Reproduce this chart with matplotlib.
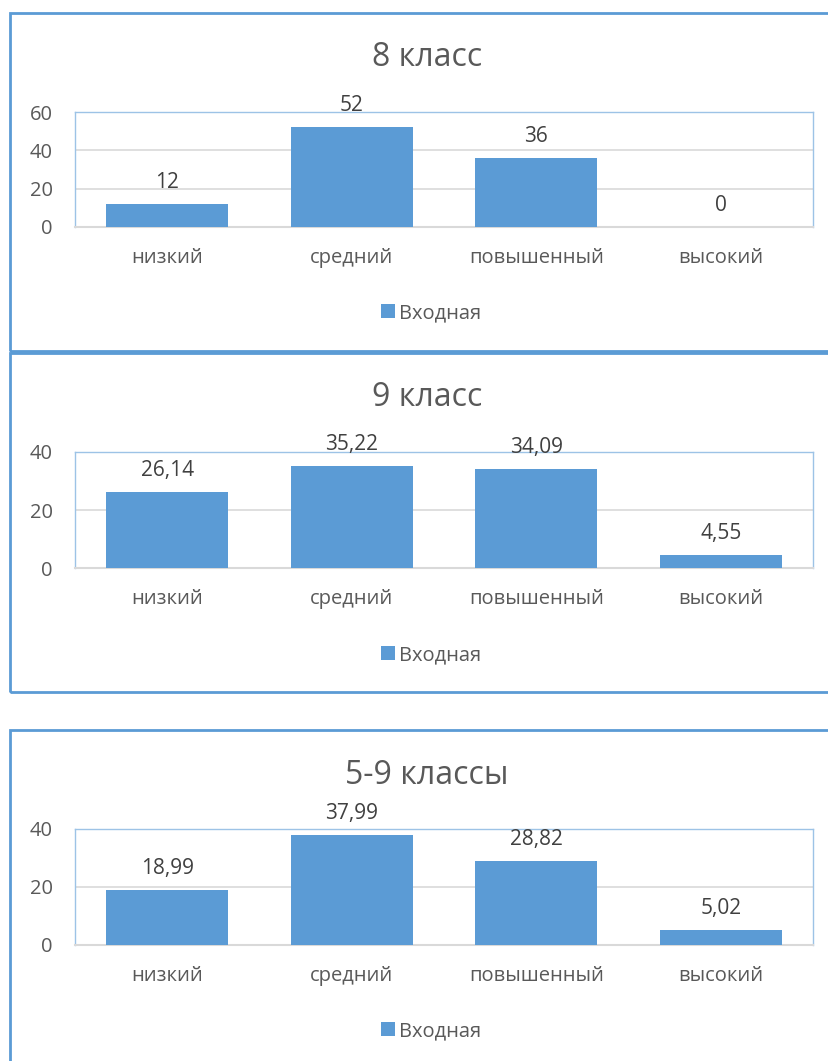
import matplotlib.pyplot as plt
from matplotlib.patches import Rectangle

plt.rcParams['font.family'] = ['Open Sans', 'DejaVu Sans']

# данные
levels = ["низкий", "средний", "повышенный", "высокий"]
titles = ["8 класс", "9 класс", "5-9 классы"]
vals_8 = [12, 52, 36, 0]
vals_9 = [26.14, 35.22, 34.09, 4.55]
vals_all = [18.99, 37.99, 28.82, 5.02]
labels_8 = ["12", "52", "36", "0"]
labels_9 = ["26,14", "35,22", "34,09", "4,55"]
labels_all = ["18,99", "37,99", "28,82", "5,02"]
ymax = [60, 40, 40]
ystep = [20, 20, 20]

W, H = 829, 1061
fig = plt.figure(figsize=(W / 100, H / 100), dpi=100)

bar_color = "#5B9BD5"
text_color = "#595959"
frame_color = "#5B9BD5"

# рамки вокруг диаграмм (в пикселях)
frames = [(10, 13, 835, 351), (10, 353, 835, 692), (10, 730, 835, 1070)]
for x0, y0, x1, y1 in frames:
    fig.patches.append(Rectangle((x0 / W, 1 - y1 / H), (x1 - x0) / W, (y1 - y0) / H,
                                 transform=fig.transFigure, fill=False,
                                 edgecolor=frame_color, linewidth=2))

# положения областей построения (top, bottom в пикселях)
areas = [(112, 227), (452, 568), (829, 945)]
title_y = [57, 397, 775]
legend_y = [313, 655, 1031]

data = [(vals_8, labels_8), (vals_9, labels_9), (vals_all, labels_all)]

for i, (vals, labs) in enumerate(data):
    top, bottom = areas[i]
    ax = fig.add_axes([75 / W, 1 - bottom / H, (813 - 75) / W, (bottom - top) / H])
    bars = ax.bar(range(len(levels)), vals, width=0.66, color=bar_color, label="Входная", zorder=3)
    ax.set_xlim(-0.5, 3.5)
    ax.set_ylim(0, ymax[i])
    ax.set_yticks(range(0, ymax[i] + 1, ystep[i]))
    ax.set_xticks(range(len(levels)))
    ax.set_xticklabels(levels)
    ax.tick_params(length=0, labelsize=14.5, colors=text_color)
    ax.tick_params(axis="y", pad=16)
    ax.tick_params(axis="x", pad=15)
    ax.grid(axis="y", color="#D9D9D9", linewidth=1.2, zorder=0)
    for side in ["left", "top", "right"]:
        ax.spines[side].set_color("#9DC3E6")
        ax.spines[side].set_linewidth(1)
    ax.spines["bottom"].set_color("#D9D9D9")
    ax.spines["bottom"].set_linewidth(1.5)
    for b, lab in zip(bars, labs):
        ax.annotate(lab, (b.get_x() + b.get_width() / 2, b.get_height()),
                    xytext=(0, 8), textcoords="offset points",
                    ha="center", va="bottom", fontsize=15, color="#404040")
    fig.text(427 / W, 1 - title_y[i] / H, titles[i], ha="center", va="center",
             fontsize=23, color=text_color)
    leg = fig.legend(handles=[bars[0]], labels=["Входная"], loc="center",
                     bbox_to_anchor=(431 / W, 1 - legend_y[i] / H), frameon=False,
                     fontsize=14.5, handlelength=0.7, handleheight=0.7, handletextpad=0.2)
    for t in leg.get_texts():
        t.set_color(text_color)

plt.savefig("out.png", dpi=100)
